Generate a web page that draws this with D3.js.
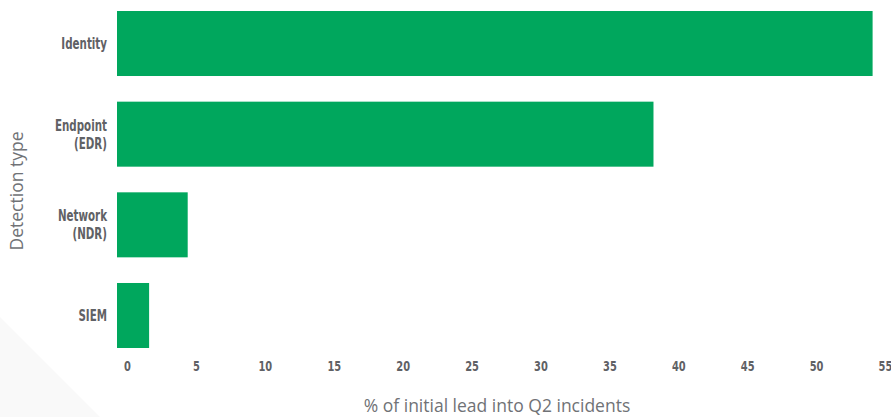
<!DOCTYPE html>
<html>
<head>
<meta charset="utf-8">
<script src="https://cdn.jsdelivr.net/npm/d3@7"></script>
<style>
	body { margin: 0; background: #fff; }
	.axis-x text, .cat-label { font-family: "DejaVu Sans Condensed", "DejaVu Sans", sans-serif; font-stretch: condensed; font-weight: bold; fill: #5f6165; }
	.title { font-family: "Open Sans", sans-serif; font-weight: 400; fill: #707276; font-size: 17.5px; }
</style>
</head>
<body>
<svg id="chart" width="891" height="417"></svg>
<script>

// Data
const categories = [["Identity"], ["Endpoint", "(EDR)"], ["Network", "(NDR)"], ["SIEM"]];
const values = [54.1, 38.2, 4.4, 1.6];
const xTicks = [0, 5, 10, 15, 20, 25, 30, 35, 40, 45, 50, 55];

const svg = d3.select("#chart");

// Faint corner decoration
svg.append("path")
	.attr("d", "M0,317L100,417L0,417Z")
	.attr("fill", "#f9f9f9");

// Scales - bars start a little left of the 0 tick
const xScale = d3.scaleLinear()
					.domain([-0.73, 55])
					.range([117, 885]);

const yScale = d3.scaleBand()
					.domain(categories.map(d => d.join(" ")))
					.range([11, 348])
					.paddingInner(0.283)
					.paddingOuter(0);

// Bars
svg.selectAll("rect.bar")
	.data(values)
	.enter()
	.append("rect")
		.attr("class", "bar")
		.attr("x", xScale.range()[0])
		.attr("y", (d, i) => yScale(categories[i].join(" ")))
		.attr("width", d => xScale(d) - xScale.range()[0])
		.attr("height", yScale.bandwidth())
		.attr("fill", "#00a75d");

// Category labels (narrowed to mimic the condensed face)
const labels = svg.selectAll("text.cat-label")
	.data(categories)
	.enter()
	.append("text")
		.attr("class", "cat-label")
		.attr("text-anchor", "end")
		.attr("font-size", 15.5)
		.attr("transform", d => "translate(107," + (yScale(d.join(" ")) + yScale.bandwidth() / 2) + ") scale(0.74,1)");

labels.selectAll("tspan")
	.data(d => d.map((t, i) => ({t: t, i: i, n: d.length})))
	.enter()
	.append("tspan")
		.attr("x", 0)
		.attr("dy", d => d.i == 0 ? (0.35 - (d.n - 1) * 0.58) + "em" : "1.16em")
		.text(d => d.t);

// X axis
const xAxis = d3.axisBottom(xScale)
				.tickValues(xTicks)
				.tickSize(0)
				.tickPadding(0);

const gx = svg.append("g")
	.attr("class", "axis axis-x")
	.attr("transform", "translate(0,361)")
	.call(xAxis);

gx.select(".domain").remove();
gx.selectAll("text")
	.attr("font-size", 14.5)
	.attr("dy", "0.71em")
	.attr("transform", "scale(0.76,1)");

// Axis titles
svg.append("text")
	.attr("class", "title")
	.attr("text-anchor", "middle")
	.attr("x", 497)
	.attr("y", 412)
	.text("% of initial lead into Q2 incidents");

svg.append("text")
	.attr("class", "title")
	.attr("text-anchor", "middle")
	.attr("transform", "translate(23,191) rotate(-90)")
	.text("Detection type");

</script>
</body>
</html>
